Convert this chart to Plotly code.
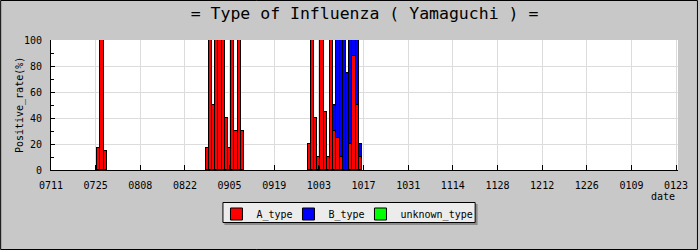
import plotly.graph_objects as go

# ---- data (day offset from 07/11, daily positive rate %) ----
days = [15, 16, 17,
        49, 50, 51, 52, 53, 54, 55, 56, 57, 58, 59, 60,
        81, 82, 83, 84, 85, 86, 87, 88, 89, 90, 91, 92, 93, 94, 95, 96, 97]
a_type = [17, 100, 15,
          17, 100, 50, 100, 100, 100, 40, 17, 100, 30, 100, 30,
          20, 100, 40, 10, 100, 45, 10, 100, 30, 25, 10, 0, 0, 20, 88, 50, 10]
b_type = [0, 0, 0,
          0, 0, 0, 0, 0, 0, 0, 0, 0, 0, 0, 0,
          0, 0, 0, 0, 0, 0, 0, 0, 20, 75, 90, 100, 75, 80, 12, 50, 10]

tick_days = [0, 14, 28, 42, 56, 70, 84, 98, 112, 126, 140, 154, 168, 182, 196]
tick_labels = ["0711", "0725", "0808", "0822", "0905", "0919", "1003", "1017",
               "1031", "1114", "1128", "1212", "1226", "0109", "0123"]

W, H = 700, 250
ML, MR, MT, MB = 51, 20, 40, 80
PW, PH = W - ML - MR, H - MT - MB
FONT = "DejaVu Sans Mono"
BG = "#c8c8c8"

def px_x(x):
    return (x - ML) / PW

def px_y(y):
    return (H - MB - y) / PH

fig = go.Figure()
line = dict(color="black", width=1)
fig.add_trace(go.Bar(x=days, y=a_type, name="A_type", width=1,
                     marker=dict(color="#ff0000", line=line)))
fig.add_trace(go.Bar(x=days, y=b_type, name="B_type", width=1,
                     marker=dict(color="#0000ff", line=line)))
fig.add_trace(go.Bar(x=[None], y=[None], name="unknown_type", width=1,
                     marker=dict(color="#00ff00", line=line)))
# spacer entry so the last legend label is not clipped
fig.add_trace(go.Bar(x=[None], y=[None], name=" ", width=1, hoverinfo="skip",
                     marker=dict(color="rgba(0,0,0,0)",
                                 line=dict(width=0, color="rgba(0,0,0,0)"))))

fig.update_layout(
    width=W, height=H,
    margin=dict(l=ML, r=MR, t=MT, b=MB, pad=0),
    paper_bgcolor=BG, plot_bgcolor="white",
    barmode="stack", bargap=0,
    font=dict(family=FONT, size=10, color="black"),
    title=dict(text="= Type of Influenza ( Yamaguchi ) =",
               font=dict(family=FONT, size=16.5, color="black"),
               x=0.5, xref="paper", xanchor="center",
               y=1 - 13 / H, yanchor="middle"),
    showlegend=True,
    legend=dict(orientation="h", x=px_x(217), xanchor="left",
                y=px_y(199.5), yanchor="top",
                bgcolor="rgba(0,0,0,0)", borderwidth=0,
                font=dict(family=FONT, size=10), entrywidth=27,
                itemwidth=30, traceorder="normal"),
    xaxis=dict(range=[0, 196.6], tickvals=tick_days, ticktext=tick_labels,
               showgrid=True, gridcolor="#dcdcdc", gridwidth=1,
               ticks="inside", ticklen=5, tickcolor="black",
               showline=True, linecolor="black", linewidth=1,
               zeroline=False, ticklabelstandoff=6),
    yaxis=dict(range=[0, 100], tickvals=[0, 20, 40, 60, 80, 100],
               showgrid=True, gridcolor="#dcdcdc", gridwidth=1,
               ticks="inside", ticklen=4, tickcolor="black",
               showline=True, linecolor="black", linewidth=1,
               zeroline=False, ticklabelstandoff=6,
               minor=dict(dtick=10, ticks="inside", ticklen=3,
                          tickcolor="black", showgrid=False)),
    annotations=[
        dict(text="Positive_rate(%)", textangle=-90, x=px_x(20), y=px_y(105),
             xref="paper", yref="paper", showarrow=False,
             xanchor="center", yanchor="middle", font=dict(family=FONT, size=10)),
        dict(text="date", x=px_x(679), y=px_y(196), xref="paper", yref="paper",
             showarrow=False, xanchor="right", yanchor="middle",
             font=dict(family=FONT, size=10)),
    ],
    shapes=[
        dict(type="rect", xref="paper", yref="paper", layer="below",
             x0=px_x(0.5), x1=px_x(699.5), y0=px_y(249.5), y1=px_y(0.5),
             line=dict(color="black", width=1)),
        dict(type="rect", xref="paper", yref="paper", layer="below",
             x0=px_x(225), x1=px_x(479), y0=px_y(225), y1=px_y(204),
             fillcolor="#8c8c8c", line=dict(width=0)),
        dict(type="rect", xref="paper", yref="paper", layer="below",
             x0=px_x(223.5), x1=px_x(476.5), y0=px_y(222.5), y1=px_y(202.5),
             fillcolor="#ececec", line=dict(color="black", width=1)),
    ],
)

fig.write_html("out.html")
